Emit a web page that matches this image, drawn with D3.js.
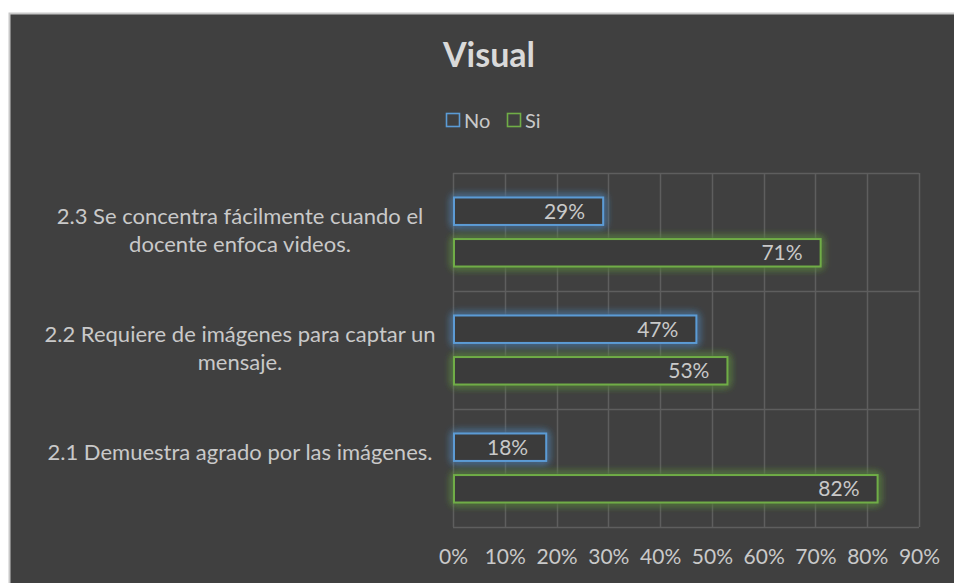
<!DOCTYPE html>
<html>
<head>
<meta charset="utf-8">
<script src="https://cdn.jsdelivr.net/npm/d3@7"></script>
<style>
  body { margin: 0; background: #ffffff; }
  text { font-family: Lato, "Open Sans", sans-serif; }
</style>
</head>
<body>
<div id="chart-area"></div>
<script>
/*
*    visual chart
*/

// categories, top to bottom as drawn
var categories = ["2.3", "2.2", "2.1"]
var categoryLines = [
    ["2.3 Se concentra fácilmente cuando el", "docente enfoca videos."],
    ["2.2 Requiere de imágenes para captar un", "mensaje."],
    ["2.1 Demuestra agrado por las imágenes.", ""]
]
var seriesNames = ["No", "Si"]
var noValues = [0.29, 0.47, 0.18]
var siValues = [0.71, 0.53, 0.82]
var xTicks = [0, 0.1, 0.2, 0.3, 0.4, 0.5, 0.6, 0.7, 0.8, 0.9]

var colors = {No: "#5b9bd5", Si: "#70ad47"}
var textColor = "#c9c9c9"

var cw = 954
var ch = 583
var m = {l: 453, t: 173, r: 35, b: 56}
var w = cw - m.l - m.r
var h = ch - m.t - m.b

var svg = d3.select("#chart-area").append("svg")
    .attr("width", cw)
    .attr("height", ch)

// chart background
svg.append("rect")
    .attr("x", 9.5)
    .attr("y", 13.5)
    .attr("width", cw)
    .attr("height", ch)
    .attr("fill", "#404040")
    .attr("stroke", "#c8c8c8")
    .attr("stroke-width", 2)

var defs = svg.append("defs")
seriesNames.forEach(s => {
    var f = defs.append("filter")
        .attr("id", "glow-" + s)
        .attr("x", "-20%").attr("y", "-80%")
        .attr("width", "140%").attr("height", "260%")
    f.append("feGaussianBlur")
        .attr("in", "SourceGraphic")
        .attr("stdDeviation", 4)
        .attr("result", "blur")
    var mg = f.append("feMerge")
    mg.append("feMergeNode").attr("in", "blur")
    mg.append("feMergeNode").attr("in", "blur")
    mg.append("feMergeNode").attr("in", "SourceGraphic")
})

svg.append("text")
    .attr("x", 489)
    .attr("y", 67)
    .attr("text-anchor", "middle")
    .attr("font-size", "34px")
    .attr("font-weight", "bold")
    .attr("fill", "#d9d9d9")
    .text("Visual")

// legend
var legend = svg.append("g")
    .attr("transform", "translate(446, 113)")

var legendItems = legend.selectAll(".legend-item")
    .data(seriesNames)
    .enter()
    .append("g")
    .attr("class", "legend-item")
    .attr("transform", (d, i) => `translate(${i * 61}, 0)`)

legendItems.append("rect")
    .attr("x", 0.5)
    .attr("y", 0.5)
    .attr("width", 13)
    .attr("height", 13)
    .attr("fill", "none")
    .attr("stroke", d => colors[d])
    .attr("stroke-width", 1.6)

legendItems.append("text")
    .attr("x", 18)
    .attr("y", 14.5)
    .attr("font-size", "20px")
    .attr("fill", textColor)
    .text(d => d)

var g = svg.append("g").attr("transform", "translate(" + m.l + ", " + m.t + ")")

var x = d3.scaleLinear()
    .domain([0, 0.9])
    .range([0, w])

var y = d3.scaleBand()
    .domain(categories)
    .range([0, h])

var y1 = d3.scaleBand()
    .domain(seriesNames)
    .range([24.5, y.bandwidth() - 24.5])
    .paddingInner(0.34)

// gridlines
g.selectAll(".vgrid")
    .data(xTicks)
    .enter()
    .append("line")
    .attr("class", "vgrid")
    .attr("x1", d => Math.round(x(d)) + 0.5)
    .attr("x2", d => Math.round(x(d)) + 0.5)
    .attr("y1", 0)
    .attr("y2", h)
    .attr("stroke", "#5e5e5e")
    .attr("stroke-width", 1.5)

g.selectAll(".hgrid")
    .data([0, 1, 2, 3])
    .enter()
    .append("line")
    .attr("class", "hgrid")
    .attr("x1", 0)
    .attr("x2", w)
    .attr("y1", d => Math.round(d * y.bandwidth()) + 0.5)
    .attr("y2", d => Math.round(d * y.bandwidth()) + 0.5)
    .attr("stroke", "#5e5e5e")
    .attr("stroke-width", 1.5)

var bottomAxis = d3.axisBottom(x)
    .tickValues(xTicks)
    .tickFormat(d3.format(".0%"))
    .tickSize(0)
    .tickPadding(22)

var xAxisGroup = g.append("g")
    .attr("class", "bottom axis")
    .attr("transform", "translate(0, " + h + ")")
    .call(bottomAxis)

xAxisGroup.select(".domain").remove()
xAxisGroup.selectAll("text")
    .attr("font-family", "Lato, sans-serif")
    .attr("font-size", "21px")
    .attr("fill", textColor)

// category labels
var catLabels = svg.selectAll(".cat-label")
    .data(categories)
    .enter()
    .append("text")
    .attr("class", "cat-label")
    .attr("text-anchor", "middle")
    .attr("font-size", "22px")
    .attr("fill", textColor)

catLabels.selectAll("tspan")
    .data((d, i) => categoryLines[i].map((line, j) => ({cat: d, line: line, j: j})))
    .enter()
    .append("tspan")
    .attr("x", 240)
    .attr("y", d => m.t + y(d.cat) + y.bandwidth() / 2 + 6 + (d.j - 0.5) * 28)
    .text(d => d.line)

// bars
var barData = []
categories.forEach((c, i) => {
    barData.push({cat: c, series: "No", value: noValues[i]})
    barData.push({cat: c, series: "Si", value: siValues[i]})
})

var bars = g.selectAll(".bar")
    .data(barData)
    .enter()
    .append("rect")
    .attr("class", "bar")
    .attr("x", 1)
    .attr("y", d => y(d.cat) + y1(d.series))
    .attr("width", d => x(d.value) - 1)
    .attr("height", y1.bandwidth())
    .attr("fill", "#3a3a3a")
    .attr("stroke", d => colors[d.series])
    .attr("stroke-width", 2)
    .attr("filter", d => "url(#glow-" + d.series + ")")

g.selectAll(".bar-label")
    .data(barData)
    .enter()
    .append("text")
    .attr("class", "bar-label")
    .attr("x", d => x(d.value) - 18)
    .attr("y", d => y(d.cat) + y1(d.series) + y1.bandwidth() / 2)
    .attr("dy", "0.35em")
    .attr("text-anchor", "end")
    .attr("font-size", "21px")
    .attr("fill", textColor)
    .text(d => d3.format(".0%")(d.value))
</script>
</body>
</html>
